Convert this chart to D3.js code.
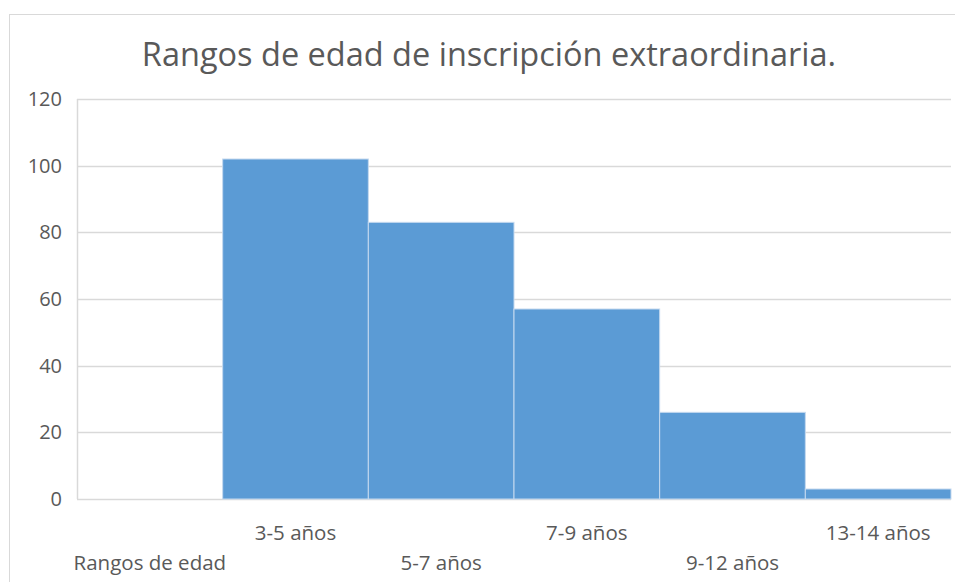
<!DOCTYPE html>
<html>
<head>
<meta charset="utf-8">
<script src="https://cdn.jsdelivr.net/npm/d3@7"></script>
<style>
body { margin: 0; background: #fff; }
text { font-family: "Open Sans", sans-serif; fill: #595959; }
</style>
</head>
<body>
<svg id="chart" width="955" height="582"></svg>
<script>
// chart data
var titleText = "Rangos de edad de inscripción extraordinaria.";
var categories = ["Rangos de edad", "3-5 años", "5-7 años", "7-9 años", "9-12 años", "13-14 años"];
var values = [0, 102, 83, 57, 26, 3];
var yTicks = [0, 20, 40, 60, 80, 100, 120];

var svg = d3.select("#chart");
var margin = {left: 77, right: 4, top: 99, bottom: 83};
var width = 955 - margin.left - margin.right;
var height = 582 - margin.top - margin.bottom;

// outer frame of the chart area
svg.append("rect")
	.attr("x", 9.5).attr("y", 14.5)
	.attr("width", 960).attr("height", 600)
	.attr("fill", "none")
	.attr("stroke", "#d9d9d9");

svg.append("text")
	.attr("x", 489).attr("y", 66)
	.attr("text-anchor", "middle")
	.style("font-size", "32.5px")
	.text(titleText);

var g = svg.append("g").attr("transform", "translate(" + margin.left + "," + margin.top + ")");

var x = d3.scaleBand().domain(categories).range([0, width]).padding(0);
var y = d3.scaleLinear().domain([0, 120]).range([height, 0]);

// gridlines
g.selectAll(".grid").data(yTicks).enter().append("line")
	.attr("x1", 0).attr("x2", width)
	.attr("y1", function(d) { return Math.round(y(d)) + 0.5; })
	.attr("y2", function(d) { return Math.round(y(d)) + 0.5; })
	.attr("stroke", "#d9d9d9")
	.attr("stroke-width", 1.5);

g.append("line")
	.attr("x1", 0.5).attr("x2", 0.5)
	.attr("y1", 0).attr("y2", height)
	.attr("stroke", "#d9d9d9")
	.attr("stroke-width", 1.5);

// bars
g.selectAll(".bar").data(values).enter().append("rect")
	.attr("x", function(d, i) { return x(categories[i]); })
	.attr("y", function(d) { return y(d); })
	.attr("width", x.bandwidth())
	.attr("height", function(d) { return height - y(d); })
	.attr("fill", "#5b9bd5")
	.attr("stroke", function(d) { return d > 0 ? "#c5d9ef" : "none"; })
	.attr("stroke-width", 1);

// y axis labels
var yAxis = d3.axisLeft(y).tickValues(yTicks).tickSize(0).tickPadding(15);
var ya = g.append("g").call(yAxis);
ya.select(".domain").remove();
ya.selectAll("text").style("font-size", "20px").attr("fill", "#595959");

// x axis labels, staggered in two rows
var xAxis = d3.axisBottom(x).tickSize(0).tickPadding(0);
var xa = g.append("g").attr("transform", "translate(0," + height + ")").call(xAxis);
xa.select(".domain").remove();
xa.selectAll("text")
	.style("font-size", "20.5px")
	.attr("fill", "#595959")
	.attr("dy", null)
	.attr("y", function(d, i) { return i % 2 == 1 ? 41 : 71; });
</script>
</body>
</html>
